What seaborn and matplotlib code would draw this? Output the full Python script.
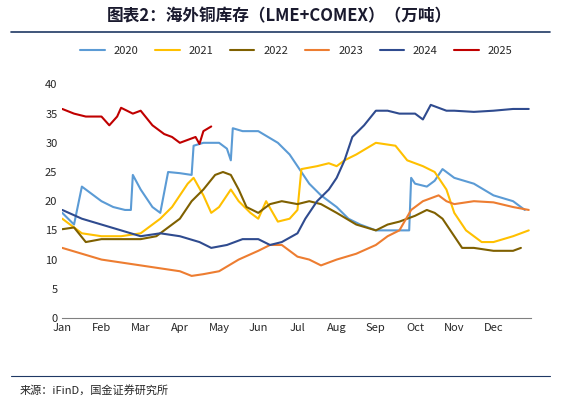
import matplotlib
matplotlib.use("Agg")
import matplotlib.pyplot as plt
import seaborn as sns
import pandas as pd

months = ["Jan","Feb","Mar","Apr","May","Jun","Jul","Aug","Sep","Oct","Nov","Dec"]
x2020 = [0,0.3,0.5,0.8,1.0,1.3,1.6,1.75,1.8,2.0,2.3,2.5,2.7,3.0,3.3,3.35,3.6,4.0,4.2,4.3,4.35,4.6,5.0,5.5,5.8,6.0,6.3,6.6,7.0,7.3,7.6,8.0,8.5,8.85,8.9,9.0,9.3,9.5,9.7,10.0,10.5,11.0,11.5,11.8]
y2020 = [18,16,22.5,21,20,19,18.5,18.5,24.5,22,19,18,25,24.8,24.5,29.5,30,30,29,27,32.5,32,32,30,28,26,23,21,19,17,16,15,15,15,24,23,22.5,23.5,25.5,24,23,21,20,18.5]
x2021 = [0,0.5,1.0,1.5,2.0,2.5,2.8,3.0,3.2,3.35,3.6,3.8,4.0,4.3,4.5,4.8,5.0,5.2,5.5,5.8,6.0,6.1,6.5,6.8,7.0,7.2,7.5,8.0,8.5,8.8,9.2,9.5,9.8,10.0,10.3,10.7,11.0,11.5,11.9]
y2021 = [17,14.5,14,14,14.5,17,19,21,23,24,21,18,19,22,20,18,17,20,16.5,17,18.5,25.5,26,26.5,26,27,28,30,29.5,27,26,25,22,18,15,13,13,14,15]
x2022 = [0,0.3,0.6,1.0,1.5,2.0,2.4,2.7,3.0,3.3,3.6,3.9,4.1,4.3,4.5,4.7,5.0,5.3,5.6,6.0,6.3,6.6,7.0,7.5,8.0,8.3,8.6,9.0,9.3,9.5,9.7,10.0,10.2,10.5,11.0,11.5,11.7]
y2022 = [15.2,15.5,13,13.5,13.5,13.5,14,15.5,17,20,22,24.5,25,24.5,22,19,18,19.5,20,19.5,20,19.5,18,16,15,16,16.5,17.5,18.5,18,17,14,12,12,11.5,11.5,12]
x2023 = [0,0.5,1.0,1.5,2.0,2.5,3.0,3.3,3.6,4.0,4.5,5.0,5.3,5.6,6.0,6.3,6.6,7.0,7.5,8.0,8.3,8.6,8.9,9.2,9.4,9.6,9.8,10.0,10.5,11.0,11.5,11.9]
y2023 = [12,11,10,9.5,9,8.5,8,7.2,7.5,8,10,11.5,12.5,12.5,10.5,10,9,10,11,12.5,14,15,18.5,20,20.5,21,20,19.5,20,19.8,19,18.5]
x2024 = [0,0.5,1.0,1.5,2.0,2.5,3.0,3.5,3.8,4.2,4.6,5.0,5.3,5.6,6.0,6.2,6.5,6.8,7.0,7.2,7.4,7.7,8.0,8.3,8.6,9.0,9.2,9.4,9.6,9.8,10.0,10.5,11.0,11.5,11.9]
y2024 = [18.5,17,16,15,14,14.5,14,13,12,12.5,13.5,13.5,12.5,13,14.5,17,20,22,24,27,31,33,35.5,35.5,35,35,34,36.5,36,35.5,35.5,35.3,35.5,35.8,35.8]
x2025 = [0,0.3,0.6,1.0,1.2,1.4,1.5,1.8,2.0,2.3,2.6,2.8,3.0,3.2,3.4,3.5,3.6,3.8]
y2025 = [35.8,35,34.5,34.5,33,34.5,36,35,35.5,33,31.5,31,30,30.5,31,29.8,32,32.8]

series = [("2020",x2020,y2020),("2021",x2021,y2021),("2022",x2022,y2022),
          ("2023",x2023,y2023),("2024",x2024,y2024),("2025",x2025,y2025)]
rows = [(n, a, b) for n, xs, ys in series for a, b in zip(xs, ys)]
df = pd.DataFrame(rows, columns=["year","x","y"])
palette = {"2020":"#5B9BD5","2021":"#FFC000","2022":"#7F6000","2023":"#ED7D31","2024":"#2F4B8F","2025":"#C00000"}

sns.set_style("white")
plt.rcParams['font.family'] = ['Noto Sans CJK SC', 'DejaVu Sans']
fig = plt.figure(figsize=(5.61,4.04), dpi=100)
ax = fig.add_axes([0.111, 0.213, 0.835, 0.578])
sns.lineplot(data=df, x="x", y="y", hue="year", palette=palette, ax=ax, lw=1.5, sort=False, estimator=None)
ax.set_xlim(0, 11.95); ax.set_ylim(0, 40)
ax.set_yticks(range(0, 41, 5))
ax.set_xticks(range(12)); ax.set_xticklabels(months)
ax.tick_params(labelsize=8, length=0)
ax.set_xlabel(""); ax.set_ylabel("")
for s in ["top","right","left"]:
    ax.spines[s].set_visible(False)
ax.spines["bottom"].set_color("#808080")
ax.legend(ncol=6, loc="lower center", bbox_to_anchor=(0.5, 1.08), frameon=False, fontsize=8, handlelength=2.2, columnspacing=1.5)
fig.text(0.19, 0.96, "图表2：海外铜库存（LME+COMEX）（万吨）", ha="left", va="center", fontsize=12, fontweight="bold", style="italic", color="#1A1A2E")
fig.add_artist(plt.Line2D([0.02,0.98],[0.92,0.92], color="#1F3864", lw=1.2))
fig.add_artist(plt.Line2D([0.02,0.98],[0.07,0.07], color="#1F3864", lw=0.8))
fig.text(0.035, 0.035, "来源：iFinD，国金证券研究所", fontsize=8, va="center")
fig.savefig("out.png", dpi=100)
